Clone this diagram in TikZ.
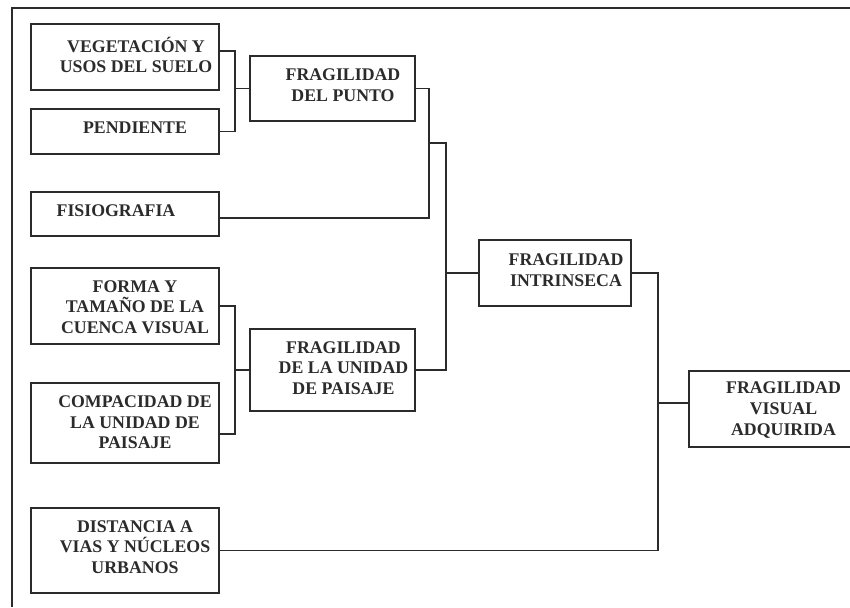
\documentclass[tikz,border=0pt]{standalone}
\usepackage{fontspec}
\setmainfont{Liberation Serif}
\usetikzlibrary{calc}
\definecolor{ink}{HTML}{2B2B2B}
\begin{document}
\begin{tikzpicture}[x=1pt,y=-1pt,
  box/.style={draw=ink, line width=1.5pt, rectangle, inner sep=0pt},
  lbl/.style={text=ink, font=\bfseries\fontsize{17.8}{20.6}\selectfont, align=center, inner sep=0pt},
  wire/.style={draw=ink, line width=1.3pt}]
\useasboundingbox (0,0) rectangle (850,607);
\clip (0,0) rectangle (850,607);
% outer frame
\draw[wire] (12,607) -- (12,8) -- (852,8);
% boxes
\node[box, minimum width=188pt, minimum height=66pt] (veg) at (125,57) {};
\node[box, minimum width=188pt, minimum height=45pt] (pend) at (125,131.5) {};
\node[box, minimum width=188pt, minimum height=44pt] (fisio) at (125,214) {};
\node[box, minimum width=165pt, minimum height=65pt] (fp) at (332.5,88.5) {};
\node[box, minimum width=188pt, minimum height=76pt] (forma) at (125,306) {};
\node[box, minimum width=188pt, minimum height=80pt] (compac) at (125,423) {};
\node[box, minimum width=165pt, minimum height=82pt] (fdup) at (332.5,370) {};
\node[box, minimum width=188pt, minimum height=85pt] (dist) at (125,550.5) {};
\node[box, minimum width=152pt, minimum height=66pt] (fi) at (555,273) {};
\node[box, minimum width=171pt, minimum height=76pt] (fva) at (774.5,409) {};
% labels
\node[lbl] (vegT) at (136,55) {VEGETACIÓN Y\\USOS DEL SUELO};
\node[lbl] (pendT) at (135,128) {PENDIENTE};
\node[lbl] (fisioT) at (116,210.5) {FISIOGRAFIA};
\node[lbl] (fpT) at (343,85) {FRAGILIDAD\\DEL PUNTO};
\node[lbl] (formaT) at (135,307) {FORMA Y\\TAMAÑO DE LA\\CUENCA VISUAL};
\node[lbl] (compacT) at (135,422.5) {COMPACIDAD DE\\LA UNIDAD DE\\PAISAJE};
\node[lbl] (distT) at (135,547) {DISTANCIA A\\VIAS Y NÚCLEOS\\URBANOS};
\node[lbl] (fdupT) at (343.5,368) {FRAGILIDAD\\DE LA UNIDAD\\DE PAISAJE};
\node[lbl] (fiT) at (566,270) {FRAGILIDAD\\INTRINSECA};
\node[lbl] (fvaT) at (783.5,410) {FRAGILIDAD\\VISUAL\\ADQUIRIDA};
% junctions
\coordinate (j1) at (235,88.5);
\coordinate (j2) at (429,143);
\coordinate (j4) at (446,273);
\coordinate (j5) at (658,403);
\coordinate (j6) at (235,370);
% connectors
\draw[wire] ([yshift=6pt]veg.east) -| (j1) |- (pend.east);
\draw[wire] (j1) -- (fp.west);
\draw[wire] (fp.east) -| (j2) |- ([yshift=-4pt]fisio.east);
\draw[wire] (j2) -| (j4) |- (fdup.east);
\draw[wire] (j4) -- (fi.west);
\draw[wire] (forma.east) -| (j6) |- ([yshift=-11pt]compac.east);
\draw[wire] (j6) -- (fdup.west);
\draw[wire] (fi.east) -| (j5) |- (dist.east);
\draw[wire] (j5) -- ([yshift=6pt]fva.west);
\end{tikzpicture}
\end{document}
